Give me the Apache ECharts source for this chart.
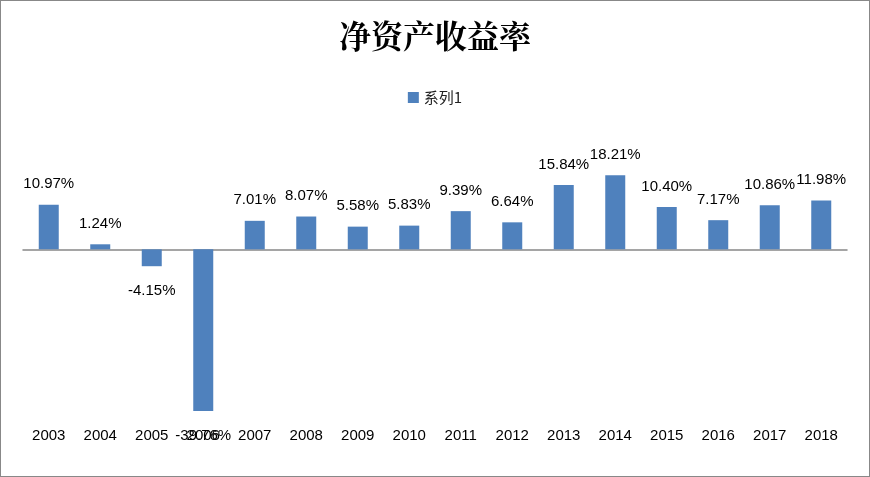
<!DOCTYPE html>
<html>
<head>
<meta charset="utf-8">
<script src="https://cdn.jsdelivr.net/npm/echarts@6/dist/echarts.min.js"></script>
<style>
html,body{margin:0;padding:0;background:#fff;}
#chart1{width:868px;height:475px;border:1px solid #888;}
</style>
</head>
<body>
<div id="chart1"></div>
<script>
var years = ['2003','2004','2005','2006','2007','2008','2009','2010','2011','2012','2013','2014','2015','2016','2017','2018'];
var roe = [10.97,1.24,-4.15,-39.76,7.01,8.07,5.58,5.83,9.39,6.64,15.84,18.21,10.40,7.17,10.86,11.98];

var Chart1 = echarts.init(document.getElementById('chart1'));
var option1 = {
    title: {
        text: '净资产收益率',
        left: 'center',
        top: 14,
        textStyle: {fontFamily: 'Noto Serif CJK SC, serif', fontSize: 32, fontWeight: 'bold', color: '#000'}
    },
    legend: {
        top: 84,
        left: 'center',
        icon: 'rect',
        itemWidth: 11,
        itemHeight: 11,
        textStyle: {fontFamily: 'Noto Sans CJK SC', fontSize: 15, color: '#222'},
        data: ['系列1']
    },
    grid: {left: 22, right: 22, top: 167, bottom: 64},
    xAxis: {
        type: 'category',
        data: years,
        axisLine: {onZero: true, lineStyle: {color: '#888', width: 1.5}},
        axisTick: {show: false},
        axisLabel: {margin: 16, fontSize: 15, color: '#000', fontFamily: 'Liberation Sans'}
    },
    yAxis: {
        type: 'value', min: -40, max: 20,
        axisLine: {show: false}, axisTick: {show: false}, axisLabel: {show: false},
        splitLine: {show: false}
    },
    series: [{
        name: '系列1',
        type: 'bar',
        barWidth: 20,
        itemStyle: {color: '#4f81bd'},
        label: {
            show: true,
            fontSize: 15,
            color: '#000',
            fontFamily: 'Liberation Sans',
            formatter: function (p) { return p.value.toFixed(2) + '%'; }
        },
        data: roe.map(function (v) {
            return {value: v, label: {position: v < 0 ? 'bottom' : 'top', distance: v < 0 ? 17 : 13}};
        })
    }]
};
Chart1.setOption(option1);
window.onresize = function () { Chart1.resize(); };
</script>
</body>
</html>
